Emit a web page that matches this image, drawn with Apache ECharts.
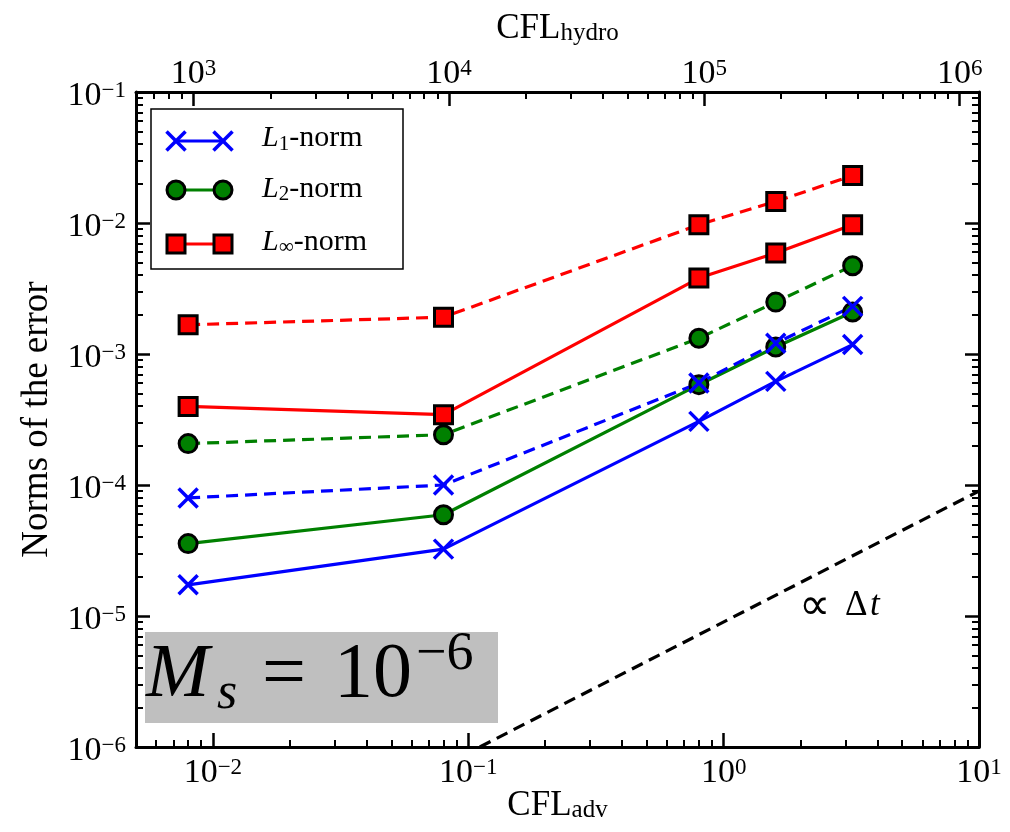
<!DOCTYPE html>
<html><head><meta charset="utf-8">
<script src="https://cdn.jsdelivr.net/npm/echarts@6/dist/echarts.min.js"></script>
<style>html,body{margin:0;padding:0;background:#fff}#c{width:1010px;height:832px}</style>
</head><body><div id="c"></div>
<script>
// ---- data ----
const cflAdv = [0.008, 0.08, 0.8, 1.6, 3.2];
const l1Solid = [1.73e-5, 3.24e-5, 3.06e-4, 6.18e-4, 1.18e-3];
const l2Solid = [3.57e-5, 5.93e-5, 5.83e-4, 1.13e-3, 2.09e-3];
const linfSolid = [3.98e-4, 3.44e-4, 3.80e-3, 5.9e-3, 9.7e-3];
const l1Dashed = [7.97e-5, 1.0e-4, 6.0e-4, 1.21e-3, 2.31e-3];
const l2Dashed = [2.07e-4, 2.42e-4, 1.32e-3, 2.49e-3, 4.72e-3];
const linfDashed = [1.67e-3, 1.91e-3, 9.7e-3, 1.46e-2, 2.30e-2];
const refX = [0.111, 10];
const refY = [1e-6, 9e-5];
const advRange = [0.005, 10];
const hydroRange = [595, 1.19e6];
const errRange = [1e-6, 1e-1];
const legendNames = ['1', '2', '∞'];

const FONT = '"Liberation Serif", "DejaVu Serif", serif';
function zip(xs, ys) { return xs.map((x, i) => [x, ys[i]]); }
function powLabel(v) {
  const e = Math.log10(v); const r = Math.round(e);
  if (Math.abs(e - r) > 1e-6) return '';
  return '{b|10}{s|' + (r < 0 ? '\u2212' + (-r) : r) + '}';
}
const labelRich = {
  b: {fontFamily: FONT, fontSize: 34, lineHeight: 34, verticalAlign: 'bottom', color: '#000'},
  s: {fontFamily: FONT, fontSize: 23, lineHeight: 20, verticalAlign: 'top', color: '#000'}
};
function axis(pos, range, showLabel, extra) {
  const a = {
    type: 'log', logBase: 10, position: pos, min: range[0], max: range[1],
    axisLine: {show: true, onZero: false, lineStyle: {color: '#000', width: 3}},
    axisTick: {show: true, inside: true, length: 14, lineStyle: {color: '#000', width: 2.5}},
    minorTick: {show: true, splitNumber: 9, length: 7, lineStyle: {color: '#000', width: 2}},
    splitLine: {show: false}, minorSplitLine: {show: false},
    axisLabel: {show: showLabel, formatter: powLabel, rich: labelRich, margin: 9, color: '#000',
      hideOverlap: false, showMinLabel: true, showMaxLabel: true},
    nameMoveOverlap: false
  };
  return Object.assign(a, extra || {});
}
const crossPath = 'path://M0,0L10,10M10,0L0,10';
const LW = 3.2;
function mk(name, data, kind, dashed) {
  const col = kind === 'l1' ? '#0000ff' : kind === 'l2' ? '#008000' : '#ff0000';
  const s = {
    type: 'line', name: name, data: data, xAxisIndex: 0, yAxisIndex: 0,
    lineStyle: {color: col, width: LW, type: dashed ? [12, 7] : 'solid'},
    emphasis: {disabled: true}, silent: true, z: 3
  };
  if (kind === 'l1') { s.symbol = crossPath; s.symbolSize = 19; s.itemStyle = {color: col, borderColor: col, borderWidth: 3.5}; }
  else if (kind === 'l2') { s.symbol = 'circle'; s.symbolSize = 18; s.itemStyle = {color: col, borderColor: '#000', borderWidth: 3}; }
  else { s.symbol = 'rect'; s.symbolSize = 18; s.itemStyle = {color: col, borderColor: '#000', borderWidth: 3}; }
  return s;
}

// legend via graphic
const legRows = [141, 190, 244];
const legTextY = [138.6, 189.2, 241.7];
const legCols = ['#0000ff', '#008000', '#ff0000'];
const g = [];
g.push({type: 'rect', z: 100, shape: {x: 151, y: 109, width: 252, height: 160}, style: {fill: '#fff', stroke: '#000', lineWidth: 1.5}});
legRows.forEach((y, i) => {
  g.push({type: 'line', z: 101, shape: {x1: 176, y1: y, x2: 223, y2: y}, style: {stroke: legCols[i], lineWidth: LW}});
  [176, 223].forEach(cx => {
    if (i === 0) {
      g.push({type: 'line', z: 102, shape: {x1: cx - 9.5, y1: y - 9.5, x2: cx + 9.5, y2: y + 9.5}, style: {stroke: legCols[i], lineWidth: 3.5}});
      g.push({type: 'line', z: 102, shape: {x1: cx - 9.5, y1: y + 9.5, x2: cx + 9.5, y2: y - 9.5}, style: {stroke: legCols[i], lineWidth: 3.5}});
    } else if (i === 1) {
      g.push({type: 'circle', z: 102, shape: {cx: cx, cy: y, r: 9}, style: {fill: legCols[i], stroke: '#000', lineWidth: 3}});
    } else {
      g.push({type: 'rect', z: 102, shape: {x: cx - 9, y: y - 9, width: 18, height: 18}, style: {fill: legCols[i], stroke: '#000', lineWidth: 3}});
    }
  });
  g.push({type: 'text', z: 102, x: 262, y: legTextY[i], style: {
    text: '{i|L}{sub|' + legendNames[i] + '}{n|-norm}', verticalAlign: 'middle', align: 'left',
    rich: {
      i: {fontFamily: FONT, fontStyle: 'italic', fontSize: 30, lineHeight: 32, fill: '#000'},
      sub: {fontFamily: FONT, fontSize: 21, lineHeight: 20, verticalAlign: 'bottom', fill: '#000'},
      n: {fontFamily: FONT, fontSize: 30, lineHeight: 32, fill: '#000'}
    }}});
});
// Mach number annotation
g.push({type: 'rect', z: 50, shape: {x: 145, y: 632, width: 353, height: 91}, style: {fill: '#bfbfbf'}});
g.push({type: 'text', z: 51, x: 146, y: 676.5, style: {text: 'M', font: 'italic 76px ' + FONT, fill: '#000', verticalAlign: 'middle'}});
g.push({type: 'text', z: 51, x: 217, y: 694, style: {text: 's', font: 'italic 52px ' + FONT, fill: '#000', verticalAlign: 'middle'}});
g.push({type: 'text', z: 51, x: 262, y: 676.5, style: {text: '=', font: '78px ' + FONT, fill: '#000', verticalAlign: 'middle'}});
g.push({type: 'text', z: 51, x: 334, y: 676, style: {text: '10', font: '78px ' + FONT, fill: '#000', verticalAlign: 'middle'}});
g.push({type: 'text', z: 51, x: 416, y: 655, style: {text: '\u22126', font: '54px ' + FONT, fill: '#000', verticalAlign: 'middle'}});
// slope label
g.push({type: 'text', z: 51, x: 799, y: 608, style: {text: '\u221d', font: '44px "DejaVu Sans", "Noto Sans", sans-serif', fill: '#000', verticalAlign: 'middle'}});
g.push({type: 'text', z: 51, x: 845, y: 606, style: {text: '\u0394', font: '35px ' + FONT, fill: '#000', verticalAlign: 'middle'}});
g.push({type: 'text', z: 51, x: 870, y: 606, style: {text: 't', font: 'italic 35px ' + FONT, fill: '#000', verticalAlign: 'middle'}});

const option = {
  animation: false,
  backgroundColor: '#fff',
  grid: {left: 136, right: 31, top: 92, bottom: 85, containLabel: false, outerBoundsMode: 'none'},
  xAxis: [
    axis('bottom', advRange, true, {name: '{b|CFL}{sub|adv}', nameLocation: 'middle', nameGap: 42,
      nameTextStyle: {rich: {b: {fontFamily: FONT, fontSize: 35, lineHeight: 34, color: '#000'},
        sub: {fontFamily: FONT, fontSize: 25, lineHeight: 24, verticalAlign: 'bottom', color: '#000'}}}}),
    axis('top', hydroRange, true, {name: '{b|CFL}{sub|hydro}', nameLocation: 'middle', nameGap: 46,
      nameTextStyle: {rich: {b: {fontFamily: FONT, fontSize: 35, lineHeight: 34, color: '#000'},
        sub: {fontFamily: FONT, fontSize: 25, lineHeight: 24, verticalAlign: 'bottom', color: '#000'}}}})
  ],
  yAxis: [
    axis('left', errRange, true, {name: 'Norms of the error', nameLocation: 'middle', nameGap: 80,
      nameTextStyle: {fontFamily: FONT, fontSize: 37, color: '#000'}}),
    axis('right', errRange, false)
  ],
  graphic: g,
  series: [
    {type: 'line', data: zip(refX, refY), symbol: 'none', lineStyle: {color: '#000', width: LW, type: [12, 7]}, silent: true, z: 2},
    mk('L1 solid', zip(cflAdv, l1Solid), 'l1', false),
    mk('L2 solid', zip(cflAdv, l2Solid), 'l2', false),
    mk('Linf solid', zip(cflAdv, linfSolid), 'linf', false),
    mk('L1 dashed', zip(cflAdv, l1Dashed), 'l1', true),
    mk('L2 dashed', zip(cflAdv, l2Dashed), 'l2', true),
    mk('Linf dashed', zip(cflAdv, linfDashed), 'linf', true)
  ]
};
option.yAxis[0].axisLabel.padding = [9, 0, 0, 0];
option.yAxis[0].axisLabel.margin = 10;
option.xAxis[1].axisLabel.margin = 1;
const chart = echarts.init(document.getElementById('c'), null, {renderer: 'canvas'});
chart.setOption(option);
</script></body></html>
